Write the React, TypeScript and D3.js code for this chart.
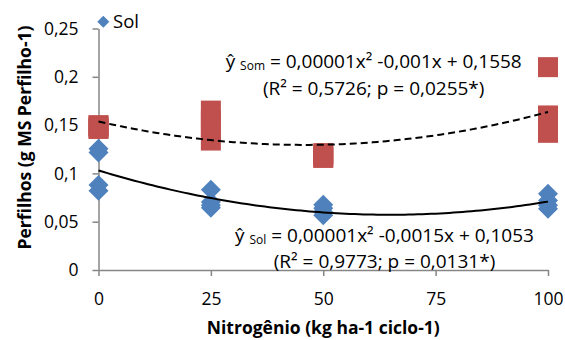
import React, { useEffect, useRef } from 'react';
import * as d3 from 'd3';

// nitrogen doses and the four replicates read at each dose
const doses = [0, 25, 50, 100];
const xTicks = [0, 25, 50, 75, 100];
const yTicks = [0, 0.05, 0.1, 0.15, 0.2, 0.25];

const solValues = [
  [0.1255, 0.1217, 0.088, 0.082],
  [0.083, 0.0703, 0.067, 0.0645],
  [0.0676, 0.064, 0.06, 0.0566],
  [0.079, 0.072, 0.067, 0.0635],
];
const somValues = [
  [0.15, 0.149, 0.147, 0.146],
  [0.165, 0.155, 0.145, 0.134],
  [0.121, 0.119, 0.117, 0.116],
  [0.21, 0.16, 0.15, 0.142],
];

const legendLabel = 'Sol';
const solEqLine1 = ['ŷ ', 'Sol', ' = 0,00001x² -0,0015x + 0,1053'];
const solEqLine2 = '(R² = 0,9773; p = 0,0131*)';
const somEqLine1 = ['ŷ ', 'Som', ' = 0,00001x² -0,001x + 0,1558'];
const somEqLine2 = '(R² = 0,5726; p = 0,0255*)';
const xTitle = 'Nitrogênio (kg ha-1 ciclo-1)';
const yTitle = 'Perfilhos (g MS Perfilho-1)';

const FONT = "'Open Sans', 'DejaVu Sans', sans-serif";
const SOL_COLOR = '#4F81BD';
const SOM_COLOR = '#C0504D';
const AXIS_COLOR = '#868686';

// least squares quadratic fit, like the Excel polynomial trendline
function quadFit(xs: number[], ys: number[]) {
  const s = [0, 0, 0, 0, 0];
  const t = [0, 0, 0];
  xs.forEach((x, i) => {
    for (let k = 0; k < 5; k++) s[k] += Math.pow(x, k);
    for (let k = 0; k < 3; k++) t[k] += Math.pow(x, k) * ys[i];
  });
  const m = [
    [s[0], s[1], s[2]],
    [s[1], s[2], s[3]],
    [s[2], s[3], s[4]],
  ];
  const det = (a: number[][]) =>
    a[0][0] * (a[1][1] * a[2][2] - a[1][2] * a[2][1]) -
    a[0][1] * (a[1][0] * a[2][2] - a[1][2] * a[2][0]) +
    a[0][2] * (a[1][0] * a[2][1] - a[1][1] * a[2][0]);
  const d = det(m);
  const coef = [0, 1, 2].map((c) => {
    const mc = m.map((row, r) => row.map((v, j) => (j === c ? t[r] : v)));
    return det(mc) / d;
  });
  return (x: number) => coef[0] + coef[1] * x + coef[2] * x * x;
}

const flatten = (values: number[][]) =>
  values.flatMap((reps, i) => reps.map((v) => ({ x: doses[i], y: v })));

const App: React.FC = () => {
  const svgRef = useRef<SVGSVGElement>(null);
  const width = 565;
  const height = 340;

  useEffect(() => {
    if (!svgRef.current) return;
    const svg = d3.select(svgRef.current);
    svg.selectAll('*').remove();

    const xScale = d3.scaleLinear().domain([0, 100]).range([98.5, 548]);
    const yScale = d3.scaleLinear().domain([0, 0.25]).range([270, 28.5]);

    const locale = d3.formatLocale({ decimal: ',', thousands: '.', grouping: [3], currency: ['', ''] });
    const fmt = locale.format('~g');

    // y axis
    const yAxis = svg
      .append('g')
      .attr('transform', `translate(${xScale(0)},0)`)
      .call(
        d3.axisLeft(yScale).tickValues(yTicks).tickSize(6).tickSizeOuter(0).tickPadding(14)
          .tickFormat((d) => fmt(d as number))
      );
    yAxis.select('.domain').attr('stroke', AXIS_COLOR).attr('stroke-width', 1.5);
    yAxis.selectAll('.tick line').attr('stroke', AXIS_COLOR).attr('stroke-width', 1.5);
    yAxis.selectAll('.tick text')
      .attr('font-family', FONT).attr('font-size', 17.5).attr('fill', '#000');

    // x axis
    const xAxis = svg
      .append('g')
      .attr('transform', `translate(0,${yScale(0)})`)
      .call(
        d3.axisBottom(xScale).tickValues(xTicks).tickSize(6).tickSizeOuter(0).tickPadding(17)
          .tickFormat((d) => fmt(d as number))
      );
    xAxis.select('.domain').attr('stroke', AXIS_COLOR).attr('stroke-width', 1.5);
    xAxis.selectAll('.tick line').attr('stroke', AXIS_COLOR).attr('stroke-width', 1.5);
    xAxis.selectAll('.tick text')
      .attr('font-family', FONT).attr('font-size', 17.5).attr('fill', '#000');

    const solPoints = flatten(solValues);
    const somPoints = flatten(somValues);

    // Sol diamonds
    const diamond = d3.symbol().type(d3.symbolSquare).size(200);
    svg.append('g')
      .selectAll('path')
      .data(solPoints)
      .enter()
      .append('path')
      .attr('d', diamond)
      .attr('transform', (d) => `translate(${xScale(d.x)},${yScale(d.y)}) rotate(45)`)
      .attr('fill', SOL_COLOR);

    // Som squares
    svg.append('g')
      .selectAll('rect')
      .data(somPoints)
      .enter()
      .append('rect')
      .attr('x', (d) => xScale(d.x) - 10)
      .attr('y', (d) => yScale(d.y) - 10)
      .attr('width', 20)
      .attr('height', 20)
      .attr('fill', SOM_COLOR);

    // trendlines
    const xs = d3.range(0, 100.5, 1);
    const solFit = quadFit(solPoints.map((p) => p.x), solPoints.map((p) => p.y));
    const somFit = quadFit(somPoints.map((p) => p.x), somPoints.map((p) => p.y));
    const line = (f: (x: number) => number) =>
      d3.line<number>().x((x) => xScale(x)).y((x) => yScale(f(x)))(xs);

    svg.append('path')
      .attr('d', line(somFit))
      .attr('fill', 'none')
      .attr('stroke', '#000')
      .attr('stroke-width', 2)
      .attr('stroke-dasharray', '7,4');

    svg.append('path')
      .attr('d', line(solFit))
      .attr('fill', 'none')
      .attr('stroke', '#000')
      .attr('stroke-width', 2);

    // equations
    const equation = (cx: number, y1: number, parts: string[], second: string) => {
      const t = svg.append('text')
        .attr('x', cx).attr('y', y1)
        .attr('text-anchor', 'middle')
        .attr('font-family', FONT).attr('font-size', 19).attr('fill', '#000');
      t.append('tspan').text(parts[0]);
      t.append('tspan').attr('font-size', 12).attr('dy', 2).text(parts[1]);
      t.append('tspan').attr('dy', -2).text(parts[2]);
      svg.append('text')
        .attr('x', cx).attr('y', y1 + 26.7)
        .attr('text-anchor', 'middle')
        .attr('font-family', FONT).attr('font-size', 19).attr('fill', '#000')
        .text(second);
    };
    equation(373.7, 68.3, somEqLine1, somEqLine2);
    equation(384.5, 241.7, solEqLine1, solEqLine2);

    // legend
    svg.append('path')
      .attr('d', d3.symbol().type(d3.symbolSquare).size(72)())
      .attr('transform', 'translate(103.3,21.7) rotate(45)')
      .attr('fill', SOL_COLOR);
    svg.append('text')
      .attr('x', 113).attr('y', 28.3)
      .attr('font-family', FONT).attr('font-size', 18.5).attr('fill', '#000')
      .text(legendLabel);

    // axis titles
    svg.append('text')
      .attr('x', xScale(50)).attr('y', 334)
      .attr('text-anchor', 'middle')
      .attr('font-family', FONT).attr('font-size', 17.5).attr('font-weight', 'bold')
      .text(xTitle);

    svg.append('text')
      .attr('transform', 'translate(31,137.5) rotate(-90)')
      .attr('text-anchor', 'middle')
      .attr('font-family', FONT).attr('font-size', 17.5).attr('font-weight', 'bold')
      .text(yTitle);
  }, []);

  return (
    <div style={{ position: 'absolute', left: 0, top: 0, background: '#fff' }}>
      <svg ref={svgRef} width={width} height={height} style={{ display: 'block' }} />
    </div>
  );
};

export default App;
